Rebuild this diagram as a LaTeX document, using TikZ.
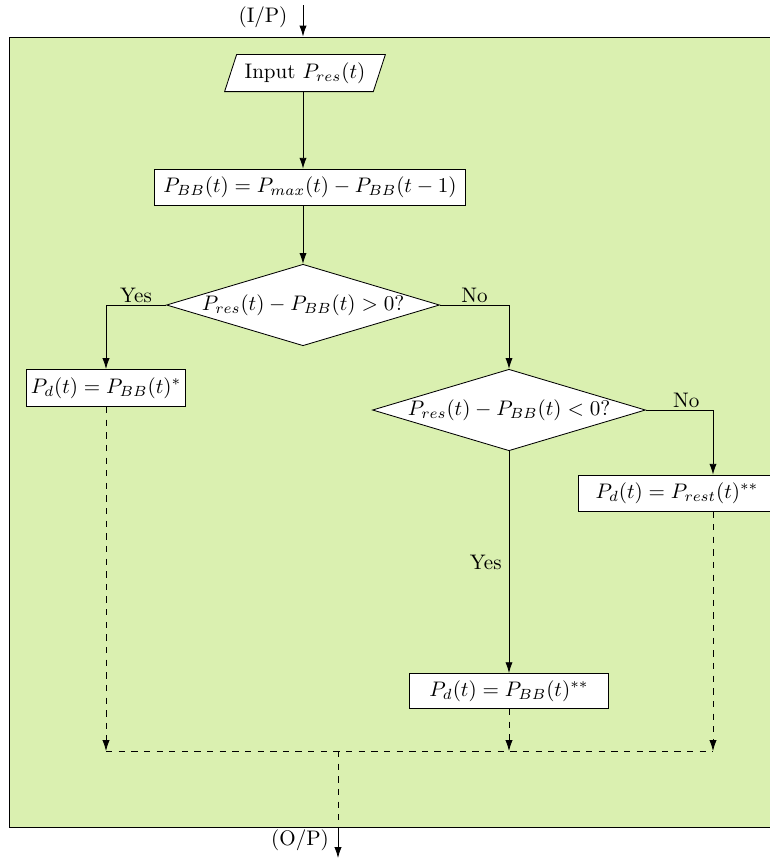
\documentclass[tikz,border=0pt]{standalone}
\usepackage{amsmath}
\usetikzlibrary{arrows.meta,positioning,shapes.geometric,calc}
\definecolor{panelgreen}{HTML}{DAF0B0}

\begin{document}
\begin{tikzpicture}[x=0.0167cm, y=-0.0167cm,
          every node/.style={font=\normalsize},
          panel/.style={draw, fill=panelgreen, inner sep=0pt,
                        minimum width=12.86cm, minimum height=13.19cm},
          box/.style={draw, fill=white, minimum height=0.6cm,
                      inner xsep=2pt, align=center},
          io/.style={draw, fill=white, trapezium, trapezium left angle=72,
                     trapezium right angle=108, minimum height=0.62cm,
                     inner xsep=2pt},
          dec/.style={draw, fill=white, diamond, aspect=3.35, inner sep=0pt,
                      minimum width=4.45cm, minimum height=1.33cm},
          arr/.style={-{Latex[length=1.8mm,width=1.2mm]}},
          darr/.style={arr, dashed}
      ]
        \useasboundingbox (0,0) rectangle (770,862);

        % frame around the algorithm
        \node[panel] (frame) at (395,432) {};

        \node[io] (inp) at (305,73) {Input $P_{res}(t)$};
        \node[box, minimum width=5.19cm] (bb) at (310,187)
              {$P_{BB}(t) = P_{max}(t) - P_{BB}(t-1)$};
        \node[dec] (q1) at (303,305) {$P_{res}(t) - P_{BB}(t) > 0?$};
        \node[box, minimum width=2.64cm, minimum height=0.62cm] (dbb) at (106,388)
              {$P_d(t) = P_{BB}(t)^{*}$};
        \node[dec] (q2) at (509,410) {$P_{res}(t) - P_{BB}(t) < 0?$};
        \node[box, minimum width=3.3cm] (drest) at (677,493)
              {$P_d(t) = P_{rest}(t)^{**}$};
        \node[box, minimum width=3.32cm, minimum height=0.57cm] (dbb2) at (509,691)
              {$P_d(t) = P_{BB}(t)^{**}$};

        \coordinate (ip) at (303,5);
        \coordinate (rx) at (713,0);
        \coordinate (join) at (338,751);
        \coordinate (op) at (338,858);
        \node (iplbl) at (263,17) {(I/P)};
        \node (oplbl) at (300,840) {(O/P)};

        \draw[arr] (ip) -- (ip |- frame.north);
        \draw[arr] (inp.south -| ip) -- (bb.north -| ip);
        \draw[arr] (bb.south -| ip) -- (q1.north);
        \draw[arr] (q1.west) -| node[pos=0.25, above, inner sep=1pt] {Yes} (dbb.north);
        \draw[arr] (q1.east) -| node[pos=0.25, above, inner sep=1pt] {No} (q2.north);
        \draw[arr] (q2.east) -| node[pos=0.3, above, inner sep=1pt] {No} (rx |- drest.north);
        \draw[arr] (q2.south) -- node[left] {Yes} (dbb2.north);

        % outputs merged
        \draw[darr] (dbb.south) -- (dbb.south |- join);
        \draw[darr] (dbb2.south) -- (dbb2.south |- join);
        \draw[darr] (rx |- drest.south) -- (rx |- join);
        \draw[dashed] (dbb.south |- join) -- (rx |- join);
        \draw[dashed] (join) -- (join |- frame.south);
        \draw[arr] (join |- frame.south) -- (op);
      \end{tikzpicture}
\end{document}
